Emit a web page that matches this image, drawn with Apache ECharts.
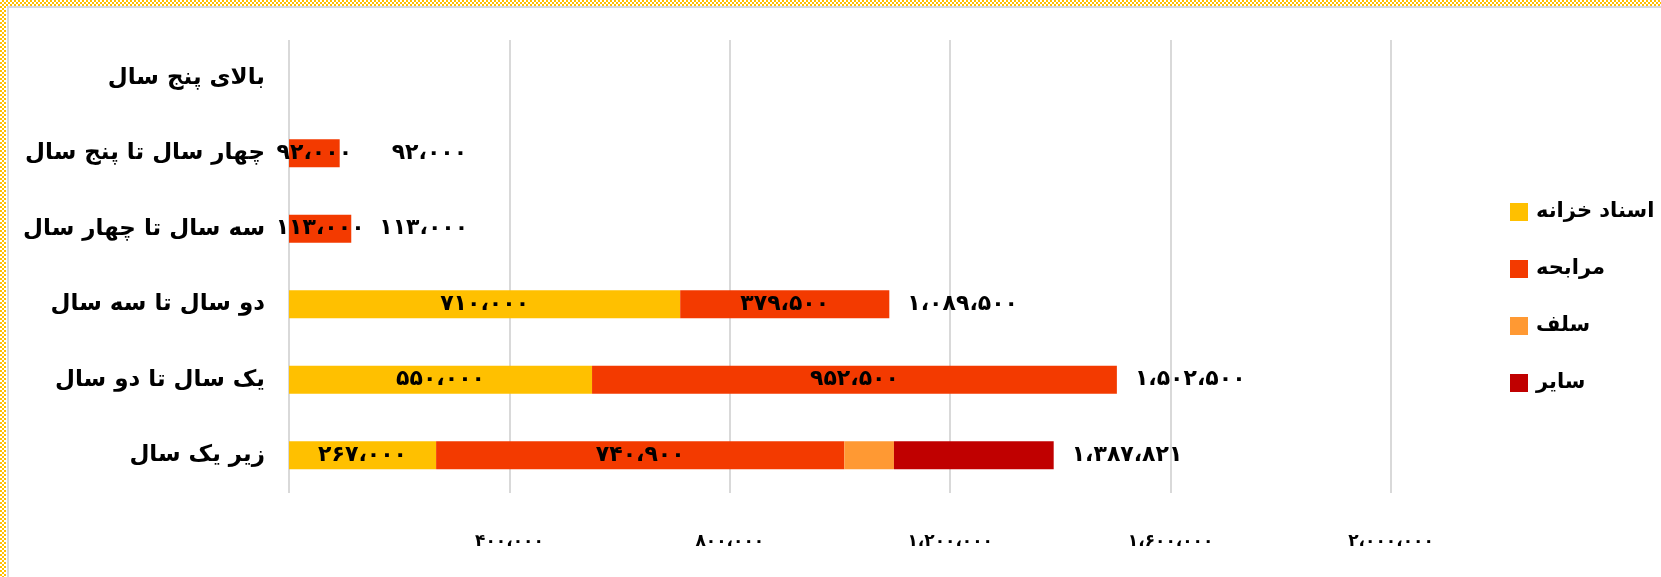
<!DOCTYPE html>
<html>
<head>
<meta charset="utf-8">
<script src="https://cdn.jsdelivr.net/npm/echarts@6/dist/echarts.min.js"></script>
<style>
html,body{margin:0;padding:0;background:#fff;}
#wrap{position:relative;width:1661px;height:577px;overflow:hidden;}
#chart{position:absolute;left:0;top:0;width:1661px;height:577px;}
.bt{position:absolute;left:0;top:0;width:1661px;height:6px;
  background-image:repeating-conic-gradient(#FFC000 0 25%, transparent 0 50%);background-size:4px 4px;}
.bl{position:absolute;left:0;top:0;width:6px;height:577px;
  background-image:repeating-conic-gradient(#FFC000 0 25%, transparent 0 50%);background-size:4px 4px;}
.gt{position:absolute;left:7px;top:6px;width:1654px;height:2px;background:#d9d9d9;}
.gl{position:absolute;left:7px;top:6px;width:2px;height:571px;background:#d9d9d9;}
</style>
</head>
<body>
<div id="wrap">
<div id="chart"></div>
<div class="bt"></div><div class="bl"></div><div class="gt"></div><div class="gl"></div>
</div>
<script>
// categories, bottom to top
var categories = ['زیر یک سال', 'یک سال تا دو سال', 'دو سال تا سه سال', 'سه سال تا چهار سال', 'چهار سال تا پنج سال', 'بالای پنج سال'];
var seriesNames = ['اسناد خزانه', 'مرابحه', 'سلف', 'سایر'];
var treasury = [267000, 550000, 710000, null, null, null];
var murabaha = [740900, 952500, 379500, 113000, 92000, null];
var salaf    = [90000, null, null, null, null, null];
var other    = [289921, null, null, null, null, null];
var totals   = [1387821, 1502500, 1089500, 113000, 92000, null];
var tickValues = [0, 400000, 800000, 1200000, 1600000, 2000000];

var colors = ['#FFC000', '#F33A00', '#FF9933', '#C00000'];
var FONT = 'DejaVu Sans';

function fa(n) {
  var s = Math.round(n).toString().replace(/\B(?=(\d{3})+(?!\d))/g, ',');
  var d = '۰۱۲۳۴۵۶۷۸۹';
  return s.replace(/\d/g, function (c) { return d[+c]; }).replace(/,/g, '،');
}

var BW = 28;

var dataSeries = [treasury, murabaha, salaf, other];
var series = dataSeries.map(function (arr, i) {
  return {
    name: seriesNames[i],
    type: 'bar',
    stack: 'total',
    barWidth: BW,
    data: arr,
    itemStyle: {color: colors[i]},
    label: {
      show: i < 2,
      position: 'inside',
      formatter: function (p) { return p.value == null ? '' : fa(p.value); },
      fontFamily: FONT, fontWeight: 'bold', fontSize: 22, color: '#000'
    },
    emphasis: {disabled: true}
  };
});

// Excel places the total labels of the short bars a little further out
var totalData = totals.map(function (v) {
  if (v == null) return null;
  var dist = v < 100000 ? 52 : (v < 200000 ? 28 : 18);
  return {value: v, label: {distance: dist}};
});

series.push({
  name: 'total',
  type: 'bar',
  barWidth: BW,
  barGap: '-100%',
  data: totalData,
  z: 1,
  silent: true,
  itemStyle: {color: 'rgba(0,0,0,0)'},
  label: {
    show: true,
    position: 'right',
    distance: 18,
    formatter: function (p) { return p.value == null ? '' : fa(p.value); },
    fontFamily: FONT, fontWeight: 'bold', fontSize: 22, color: '#000'
  }
});

var chart = echarts.init(document.getElementById('chart'), null, {renderer: 'canvas'});
chart.setOption({
  animation: false,
  backgroundColor: 'transparent',
  grid: {left: 289, right: 270, top: 40, bottom: 84, containLabel: false},
  legend: {
    data: seriesNames,
    orient: 'vertical',
    left: 1505,
    top: 196,
    itemWidth: 18,
    itemHeight: 18,
    itemGap: 35,
    icon: 'rect',
    textStyle: {fontFamily: FONT, fontWeight: 'bold', fontSize: 21, color: '#000', lineHeight: 22, padding: [0, 0, 0, 3]},
    selectedMode: false
  },
  xAxis: {
    type: 'value',
    min: tickValues[0],
    max: tickValues[tickValues.length - 1],
    interval: tickValues[1] - tickValues[0],
    axisLine: {show: false},
    axisTick: {show: false},
    splitLine: {show: true, lineStyle: {color: '#d9d9d9', width: 2}},
    axisLabel: {
      margin: 40,
      formatter: function (v) { return v === 0 ? '' : fa(v); },
      fontFamily: FONT, fontWeight: 'bold', fontSize: 17, color: '#000'
    }
  },
  yAxis: {
    type: 'category',
    data: categories,
    axisLine: {show: false},
    axisTick: {show: false},
    splitLine: {show: false},
    axisLabel: {margin: 24, fontFamily: FONT, fontWeight: 'bold', fontSize: 23, color: '#000'}
  },
  series: series
});
</script>
</body>
</html>
